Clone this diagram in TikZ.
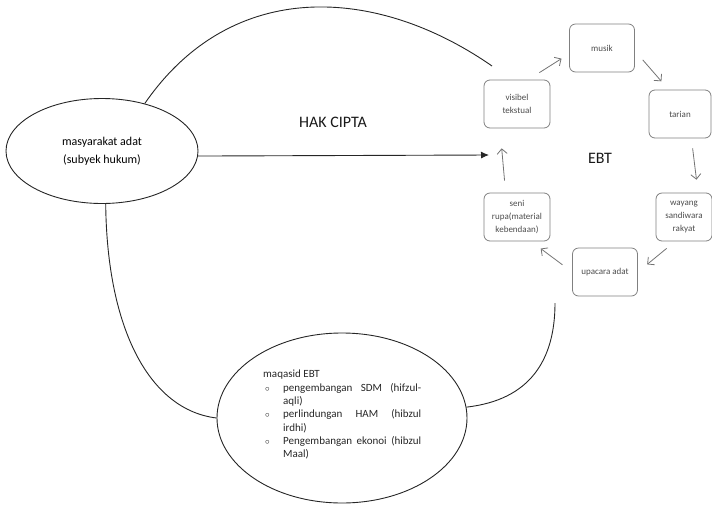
\documentclass[tikz,border=0pt]{standalone}
\usepackage{xcolor}
\usepackage{fontspec}
\setmainfont{Carlito}
\usepackage{tikz}
\usetikzlibrary{shapes.geometric, arrows.meta}

\newcommand{\maqitem}[1]{\par\hangindent=20pt\hangafter=0\noindent\llap{\makebox[20pt][l]{\hspace{2pt}{\small$\circ$}}}#1}

\begin{document}
\begin{tikzpicture}[x=1pt, y=-1pt]
    % Define styles
    \tikzstyle{subject} = [ellipse, draw=black!85, line width=0.9pt, minimum width=192pt, minimum height=105pt, inner sep=0pt, align=center, font=\fontsize{12}{18}\selectfont]
    \tikzstyle{aims} = [ellipse, draw=black!85, line width=0.9pt, minimum width=250pt, minimum height=170pt, inner sep=0pt]
    \tikzstyle{aimstext} = [anchor=north west, inner sep=0pt, text width=158pt, align=justify, font=\fontsize{11}{13.3}\selectfont, text=black!85]
    \tikzstyle{ebtbox} = [rectangle, rounded corners=6pt, minimum width=65pt, minimum height=48pt, draw=black!50, line width=0.8pt, align=center, text=black!70, font=\fontsize{9}{13}\selectfont]
    \tikzstyle{title} = [font=\fontsize{16}{18}\selectfont, text=black!90]
    \tikzstyle{link} = [draw=black!85, line width=0.9pt]
    \tikzstyle{arrow} = [draw=black!85, line width=0.9pt, -{Latex[length=8pt, width=7pt]}]
    \tikzstyle{flow} = [draw=black!55, line width=0.8pt, -{Straight Barb[length=5pt, width=10pt]}]

    \useasboundingbox (0,0) rectangle (712,504);

    % Nodes
    \node [subject] (masy) at (102,151) {masyarakat adat\\(subyek hukum)};
    \node [aims] (maq) at (342,418) {};
    \node [aimstext] (maqtext) at (263,370) {maqasid EBT
        \maqitem{pengembangan SDM (hifzul-\linebreak aqli)}
        \maqitem{perlindungan HAM (hibzul\linebreak irdhi)}
        \maqitem{Pengembangan ekonoi (hibzul\linebreak Maal)}\par};
    \node [title] (hak) at (333,122) {HAK CIPTA};
    \node [title] (ebt) at (600,158) {EBT};

    \node [ebtbox] (musik) at (602,48) {musik};
    \node [ebtbox, minimum width=62pt] (tarian) at (680,114) {tarian};
    \node [ebtbox, minimum width=56pt] (wayang) at (684,217) {wayang\\sandiwara\\rakyat};
    \node [ebtbox] (upacara) at (605,272) {upacara adat};
    \node [ebtbox, minimum width=66pt] (seni) at (517,217) {seni\\rupa(material\\kebendaan)};
    \node [ebtbox, minimum width=66pt] (visibel) at (517,104) {visibel\\tekstual};

    \coordinate (ebtin) at (489,155);
    \coordinate (arcend) at (492,66);
    \coordinate (rightend) at (555,303);

    % Arrows
    \draw [arrow] (masy.-3) -- (ebtin);
    \draw [link] (masy.48) .. controls (232,-23) and (377,-14) .. (arcend);
    \draw [link] (masy.-86) .. controls (107,330) and (150,410) .. (maq.west);
    \draw [link] (maq.5) .. controls (530,400) and (555,360) .. (rightend);

    \draw [flow, shorten <=13pt, shorten >=9pt] (visibel.65) -- (musik.190);
    \draw [flow, shorten <=12pt, shorten >=11pt] (musik.-5) -- (tarian.115);
    \draw [flow, shorten <=10pt, shorten >=13pt] (tarian.-65) -- (wayang.60);
    \draw [flow, shorten <=11pt, shorten >=12pt] (wayang.-110) -- (upacara.east);
    \draw [flow, shorten <=12pt, shorten >=12pt] (upacara.west) -- (seni.-60);
    \draw [flow, shorten <=12pt, shorten >=20pt] (seni.115) -- (visibel.-125);

\end{tikzpicture}
\end{document}
